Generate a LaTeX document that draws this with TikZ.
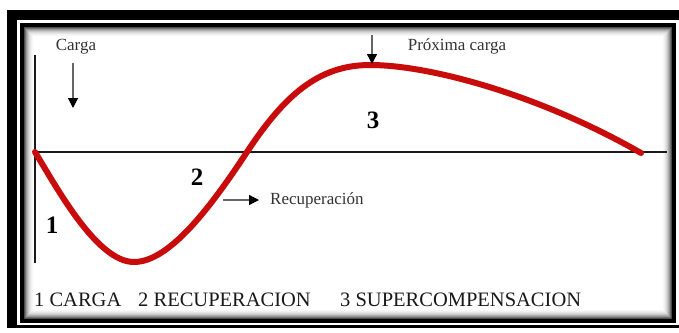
\documentclass[tikz,border=0pt]{standalone}
\usepackage{fontspec}
\setmainfont{Liberation Serif}
\usetikzlibrary{arrows.meta}
\definecolor{curvered}{RGB}{200,12,12}
\begin{document}
\begin{tikzpicture}[x=1pt,y=-1pt,
  lbl/.style={inner sep=0pt, font=\fontsize{17}{19}\selectfont, text=black!80},
  num/.style={inner sep=0pt, font=\fontsize{25}{27}\selectfont\bfseries},
  legend/.style={inner sep=0pt, anchor=base west, font=\fontsize{20.5}{22}\selectfont, text=black!90},
  pointer/.style={-{Triangle[length=10pt,width=10pt,color=black]}, line width=1.3pt, black!60},
  axisline/.style={line width=2pt, black!90},
  curve/.style={line width=6pt, curvered, line cap=round, line join=round}
  ]
\useasboundingbox (0,0) rectangle (679,332);
% frame
\fill[white] (0,0) rectangle (679,332);
\fill[black] (7,10) rectangle (679,328);
\fill[white] (17,20) rectangle (679,325);
\fill[black] (20,23) rectangle (676,323);
\foreach \i/\g in {0/70,1/55,2/42,3/31,4/22,5/15,6/10,7/6,8/3,9/0}
  \fill[black!\g] ({24+\i},{27+\i}) rectangle ({672-\i},{319-\i});
% axes
\coordinate (o) at (35,152);
\coordinate (vtop) at (35,55);
\coordinate (vbot) at (35,263);
\coordinate (hend) at (667,152);
\draw[line width=2.5pt, black!90] (vtop) -- (vbot);
\draw[axisline] (o) -- (hend);
% curve
\coordinate (mn) at (134,262);
\coordinate (cr) at (247,152);
\coordinate (mx) at (370,65);
\coordinate (en) at (641,153);
\draw[curve] (o) .. controls (57,188) and (97,262) .. (mn)
  .. controls (170,262) and (212,205) .. (cr)
  .. controls (284,96) and (318,65) .. (mx)
  .. controls (430,65) and (540,95) .. (en);
% labels
\node[lbl] (carga) at (76,47) {Carga};
\coordinate (ca1) at (73,63);
\coordinate (ca2) at (73,108);
\draw[pointer] (ca1) -- (ca2);
\node[lbl] (prox) at (457,46) {Próxima carga};
\coordinate (pa1) at (372,35);
\coordinate (pa2) at (372,64);
\draw[pointer] (pa1) -- (pa2);
\node[lbl, anchor=west] (recup) at (270,200) {Recuperación};
\coordinate (ra1) at (223,200);
\coordinate (ra2) at (259,200);
\draw[pointer] (ra1) -- (ra2);
\node[num] (n1) at (52,225) {1};
\node[num] (n2) at (197,177) {2};
\node[num] (n3) at (373,120) {3};
% legend
\node[legend] (l1) at (34,306) {1 CARGA};
\node[legend] (l2) at (138,306) {2 RECUPERACION};
\node[legend] (l3) at (340,306) {3 SUPERCOMPENSACION};
\end{tikzpicture}
\end{document}
